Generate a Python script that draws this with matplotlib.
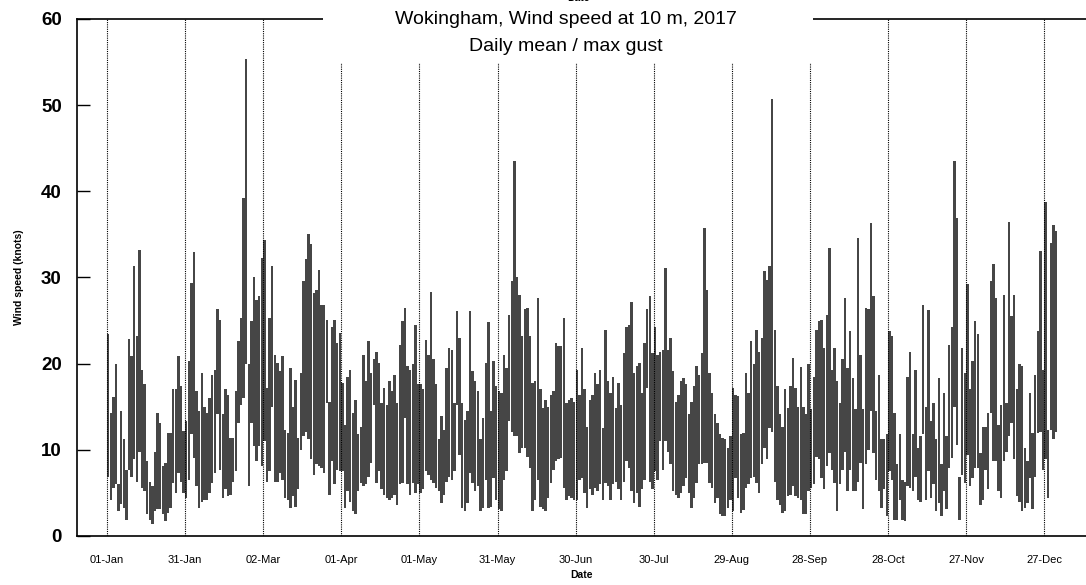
import matplotlib
matplotlib.use('Agg')
import matplotlib.pyplot as plt
import matplotlib.dates as mdates
from matplotlib.patches import Rectangle
import pandas as pd

# daily max gust (bar top) and daily mean (bar bottom), knots, 2017
gust = [23.4, 14.3, 16.1, 19.9, 6.0, 14.5, 11.2, 7.7, 22.9, 20.9,
        31.3, 23.2, 33.2, 19.3, 17.6, 8.7, 6.3, 5.8, 9.8, 14.3,
        13.1, 8.1, 8.5, 12.0, 12.0, 17.1, 17.1, 20.9, 17.4, 12.2,
        13.3, 20.3, 29.4, 33.0, 16.8, 14.5, 18.9, 15.0, 14.3, 16.0,
        18.7, 19.3, 26.3, 25.1, 14.2, 17.1, 16.4, 11.4, 11.4, 16.8,
        22.6, 25.3, 39.2, 55.3, 19.9, 24.9, 30.1, 27.4, 27.8, 32.3,
        34.4,
        17.2, 25.3, 31.3, 21.0, 20.1, 19.1, 20.9, 12.3, 12.0, 19.5,
        15.0, 18.1, 11.4, 18.9, 29.6, 32.1, 35.0, 33.9, 28.2, 28.6,
        30.9, 26.8, 26.8, 25.1, 15.6, 24.3, 25.1, 22.4, 23.6, 17.8,
        12.9, 18.5, 19.3, 14.3, 15.8, 11.8, 12.7, 21.0, 18.0, 22.6,
        18.9, 20.5, 21.4, 20.1, 15.4, 17.2, 15.2, 18.0, 16.8, 18.7,
        15.4, 22.2, 24.9, 26.5, 19.7, 19.3, 19.9, 24.5, 17.6, 17.6,
        17.0,
        22.8, 21.0, 28.3, 20.5, 17.6, 11.2, 13.9, 12.3, 19.5, 21.8,
        21.6, 15.4, 26.1, 23.0, 15.4, 13.5, 14.5, 26.1, 19.1, 18.0,
        16.8, 11.2, 13.7, 20.1, 24.8, 14.5, 20.3, 17.4, 16.8, 16.6,
        21.0, 19.5, 25.7, 29.6, 43.5, 30.1, 28.0, 23.2, 26.3, 26.5,
        23.2, 17.8, 18.0, 27.6, 17.0, 14.9, 15.8, 15.0, 16.4, 16.8,
        22.4, 22.0, 22.0, 25.3, 15.4, 15.8, 16.0, 15.6, 19.3, 16.4,
        21.8,
        17.0,
        12.7, 15.8, 16.4, 18.9, 17.6, 19.3, 12.5, 23.9, 18.0, 16.6,
        18.5, 14.9, 17.8, 15.2, 21.2, 24.3, 24.5, 27.2, 18.9, 19.7,
        20.1, 16.6, 22.4, 26.3, 27.8, 21.2, 24.3, 21.0, 21.4, 21.6,
        31.1, 21.6, 23.0, 19.1, 15.6, 16.4, 18.0, 18.3, 17.6, 14.1,
        15.6, 17.4, 19.7, 18.7, 21.2, 35.7, 28.6, 18.9, 16.6, 14.1,
        13.1, 11.8, 11.4, 11.2, 10.2, 11.6, 17.2, 16.4, 16.2, 11.8,
        12.0,
        18.9, 16.6, 22.6, 19.9, 23.9, 21.4, 23.0, 30.7, 29.7, 31.3,
        50.7, 23.9, 17.4, 14.1, 12.7, 17.0, 14.9, 17.4, 20.7, 17.2,
        15.0, 19.6, 15.0, 14.1, 19.9, 14.7, 18.5, 23.9, 24.9, 25.1,
        21.8, 25.7, 33.4, 19.3, 21.8, 18.0, 15.4, 20.5, 27.6, 19.5,
        23.8, 18.3, 14.7, 34.6, 21.0, 14.7, 26.5, 26.3, 36.3, 27.8,
        14.5, 18.7, 11.2, 11.2, 11.8, 23.8, 23.2, 14.3, 8.3, 11.8,
        6.5,
        6.3, 18.5, 21.4, 11.8, 19.3, 10.2, 11.6, 26.8, 15.0, 26.2,
        13.3, 15.4, 11.2, 18.3, 8.3, 16.6, 11.6, 22.2, 24.3, 43.5,
        36.9, 6.9, 21.8, 18.9, 29.2, 17.0, 20.3, 24.9, 23.4, 9.6,
        12.7, 12.7, 14.3, 29.6, 31.6, 27.6, 12.9, 15.2, 28.0, 15.4,
        36.4, 25.5, 28.0, 17.0, 19.9, 19.7, 10.2, 8.7, 16.6, 12.0,
        18.7, 23.8, 33.1, 19.3, 38.8, 12.3, 34.0, 36.1, 35.4]

mean = [6.9, 4.2, 5.6, 6.0, 2.9, 3.7, 3.2, 1.9, 7.7, 6.8,
        8.9, 6.3, 9.8, 5.6, 5.2, 2.6, 1.9, 1.4, 2.9, 3.1,
        3.1, 2.5, 1.7, 2.7, 3.2, 6.2, 5.0, 7.3, 6.3, 5.0,
        4.4, 6.5, 11.8, 9.0, 5.8, 3.3, 4.0, 4.2, 4.2, 5.0,
        6.2, 7.3, 14.1, 7.7, 4.4, 5.4, 4.6, 4.8, 6.3, 7.5,
        13.1, 15.2, 16.0, 19.9, 5.8, 13.1, 10.4, 8.7, 10.4, 8.1,
        11.0,
        6.3, 7.5, 15.0, 6.3, 6.3, 7.3, 6.5, 4.4, 4.2, 3.2,
        4.6, 3.4, 5.4, 10.0, 11.6, 12.1, 11.2, 8.9, 7.1, 8.3,
        8.1, 7.9, 7.3, 15.4, 4.8, 8.7, 6.0, 7.7, 7.5, 7.5,
        3.2, 5.2, 4.0, 2.9, 2.5, 5.2, 6.2, 5.8, 6.0, 6.9,
        8.5, 15.2, 6.2, 7.5, 5.4, 4.8, 4.4, 4.2, 4.4, 4.8,
        3.6, 6.0, 6.2, 13.7, 6.0, 4.8, 6.2, 5.0, 6.0, 5.0,
        5.5,
        7.5, 7.1, 6.5, 6.2, 5.6, 5.2, 3.8, 4.8, 6.3, 6.9,
        6.5, 7.5, 15.2, 9.4, 3.2, 2.9, 3.8, 7.3, 6.2, 5.2,
        5.8, 2.9, 3.2, 6.5, 3.2, 3.4, 6.7, 4.2, 3.1, 2.9,
        6.5, 7.5, 13.3, 12.1, 11.6, 11.6, 9.6, 10.2, 10.2, 9.2,
        7.9, 2.9, 4.2, 6.5, 3.4, 3.1, 2.9, 4.4, 6.2, 7.7,
        8.7, 8.9, 9.1, 5.6, 4.2, 4.6, 4.4, 4.2, 4.2, 6.5,
        6.7,
        5.0,
        3.2, 5.4, 4.8, 5.6, 5.2, 6.0, 4.2, 6.2, 5.8, 4.2,
        6.0, 6.3, 5.4, 4.2, 6.3, 8.7, 7.9, 5.2, 3.8, 5.0,
        3.4, 5.4, 6.5, 17.2, 6.3, 5.4, 7.5, 6.5, 11.0, 7.7,
        11.0, 9.8, 8.3, 5.2, 4.8, 4.4, 5.0, 5.8, 6.7, 5.0,
        3.2, 4.4, 6.2, 8.3, 8.3, 8.5, 8.5, 6.2, 5.6, 3.8,
        4.4, 2.5, 2.3, 2.3, 3.2, 4.2, 2.9, 6.7, 4.4, 2.7,
        3.0,
        5.6, 6.0, 6.7, 6.9, 6.2, 5.0, 8.3, 10.2, 8.9, 12.5,
        12.1, 6.3, 4.2, 3.6, 2.7, 2.9, 4.6, 4.8, 5.8, 4.6,
        4.4, 4.2, 2.5, 2.5, 5.2, 5.6, 6.0, 9.2, 8.9, 6.7,
        5.4, 8.1, 9.6, 7.7, 6.2, 2.9, 6.0, 7.7, 9.8, 5.2,
        7.7, 5.2, 5.2, 6.3, 8.5, 3.1, 8.3, 10.0, 14.5, 9.6,
        6.5, 5.2, 3.2, 5.4, 2.3, 7.5, 6.5, 1.9, 1.9, 4.2,
        1.9,
        1.7, 5.8, 5.6, 5.2, 6.9, 4.2, 4.0, 11.8, 4.2, 7.5,
        4.4, 6.0, 2.9, 3.8, 2.3, 5.2, 3.1, 7.9, 9.1, 15.0,
        10.6, 1.9, 7.1, 6.2, 9.4, 5.8, 6.7, 7.9, 7.9, 3.6,
        4.2, 7.7, 5.4, 14.3, 8.7, 8.7, 5.2, 4.4, 8.7, 9.8,
        11.6, 13.1, 8.9, 4.6, 4.0, 2.9, 3.2, 3.8, 6.7, 3.1,
        6.9, 12.0, 12.1, 7.7, 8.9, 4.4, 12.3, 11.2, 12.1]

tick_dates = ['2017-01-01', '2017-01-31', '2017-03-02', '2017-04-01', '2017-05-01',
              '2017-05-31', '2017-06-30', '2017-07-30', '2017-08-29', '2017-09-28',
              '2017-10-28', '2017-11-27', '2017-12-27']

days = pd.date_range('2017-01-01', periods=len(gust), freq='D')
heights = [g - m for g, m in zip(gust, mean)]
ticks = pd.to_datetime(tick_dates)

plt.rcParams['font.family'] = ['Liberation Sans', 'DejaVu Sans']

fig = plt.figure(figsize=(10.86, 5.85), dpi=100)
ax = fig.add_axes([0.0709, 0.0838, 0.9291, 0.8838])

ax.bar(days, heights, bottom=mean, width=0.92, align='edge',
       color='#464646', linewidth=0, zorder=2)

for t in ticks:
    ax.axvline(t, color='black', linestyle=(0, (1, 1)), linewidth=0.8, zorder=3)

start = mdates.date2num(pd.Timestamp('2017-01-01'))
ax.set_xlim(start - 11.5, start + 376)
ax.set_ylim(0, 60)
ax.set_yticks(range(0, 61, 10))
ax.set_yticklabels([str(v) for v in range(0, 61, 10)], fontsize=13.5, fontweight='bold')
ax.tick_params(axis='y', direction='in', length=9.5, width=1, pad=11)
ax.set_xticks(ticks)
ax.set_xticklabels([t.strftime('%d-%b') for t in ticks], fontsize=8)
ax.tick_params(axis='x', length=0, pad=14)

ax.spines['right'].set_visible(False)
for s in ['left', 'bottom', 'top']:
    ax.spines[s].set_linewidth(1.2)

ax.set_xlabel('Date', fontsize=7.5, fontweight='bold', labelpad=3)
ax.set_ylabel('Wind speed (knots)', fontsize=7.5, fontweight='bold', labelpad=12)

# white block behind the title, as in the original
fig.patches.append(Rectangle((0.2974, 0.8923), 0.4512, 0.12, transform=fig.transFigure,
                             facecolor='white', edgecolor='none', zorder=5))
fig.text(0.533, 1.004, 'Date', ha='center', va='center', fontsize=7.5,
         fontweight='bold', zorder=6)
fig.text(0.521, 0.966, 'Wokingham, Wind speed at 10 m, 2017', ha='center', va='center',
         fontsize=14, zorder=6)
fig.text(0.521, 0.920, 'Daily mean / max gust', ha='center', va='center',
         fontsize=14, zorder=6)

fig.savefig('out.png', dpi=100)
